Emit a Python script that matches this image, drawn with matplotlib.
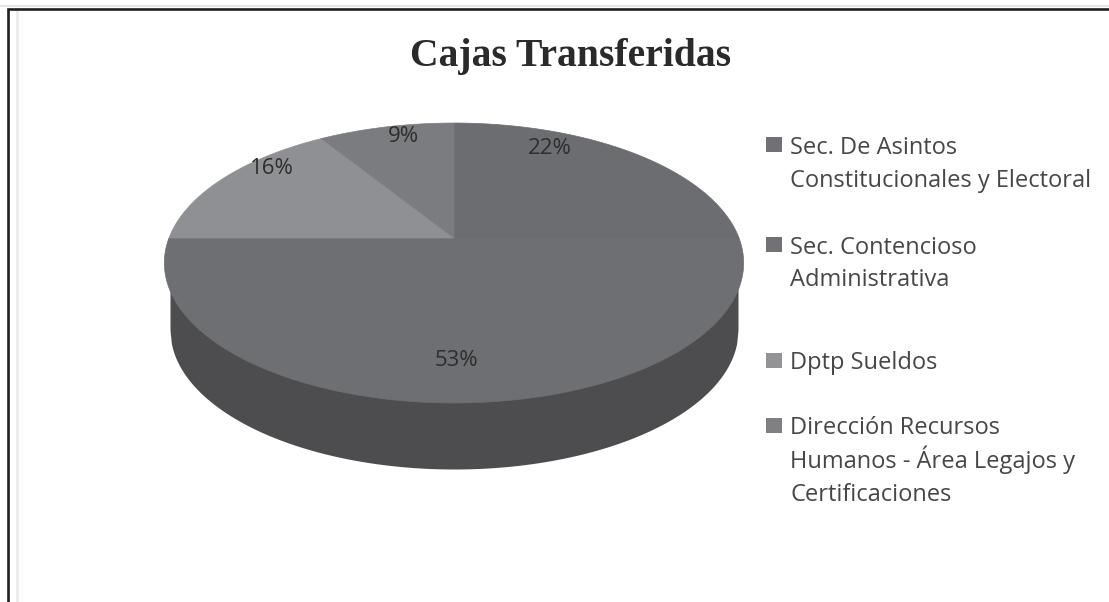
import numpy as np
import matplotlib
matplotlib.use("Agg")
import matplotlib.pyplot as plt
from matplotlib.patches import Polygon, Rectangle
from matplotlib.transforms import Affine2D

title = "Cajas Transferidas"
categories = ["Sec. De Asintos\nConstitucionales y Electoral",
              "Sec. Contencioso\nAdministrativa",
              "Dptp Sueldos",
              "Dirección Recursos\nHumanos - Área Legajos y\nCertificaciones"]
# angular shares as drawn in the picture (the printed labels differ a little)
drawn_shares = [25, 50, 16, 9]
pct_labels = ["22%", "53%", "16%", "9%"]
colors = ["#6c6d70", "#6e6f72", "#8f9093", "#7b7c7f"]
legend_colors = ["#707174", "#727276", "#939396", "#808084"]

W, H = 1109, 602
fig = plt.figure(figsize=(W / 100, H / 100), dpi=100, facecolor="white")
ax = fig.add_axes([0, 0, 1, 1])

wedges, _ = ax.pie(drawn_shares, colors=colors, startangle=90, counterclock=False)
ax.set_aspect("auto")
ax.set_xlim(0, W)
ax.set_ylim(H, 0)
ax.axis("off")

# perspective projection of the unit-circle pie
CX, CY, A, B = 454.0, 238.0, 285.0, 135.5
K = 50 / 280


def project(v):
    d = 1 + K * v[:, 1]
    return np.column_stack([CX + A * v[:, 0] / d, CY - B * v[:, 1] / d])


# side wall of the disc
RX_TOP, RY_TOP, CY_TOP = 290.0, 140.0, 263.0
RX_LOW, RY_LOW, CY_LOW = 284.0, 139.0, 330.0
xs = np.linspace(-RX_LOW, RX_LOW, 400)
upper = CY_TOP + RY_TOP * np.sqrt(1 - (xs / RX_TOP) ** 2)
lower = CY_LOW + RY_LOW * np.sqrt(1 - (xs / RX_LOW) ** 2)
ax.fill_between(CX + xs, upper - 20, lower, color="#4d4d4f", lw=0, zorder=1)

for w, col in zip(wedges, colors):
    poly = w.get_path().to_polygons(transform=Affine2D().scale(1000))[0] / 1000
    w.remove()
    ax.add_patch(Polygon(project(poly), closed=True, facecolor=col, edgecolor=col, lw=0.5, zorder=2))

# frame
ax.plot([0, W], [5.5, 5.5], color="#e6e6e8", lw=1.5, zorder=0)
ax.plot([7.5, 7.5, W], [H, 8.5, 8.5], color="#1e1e1e", lw=1.9, zorder=5, solid_joinstyle="miter")
ax.plot([17, 17], [10, H], color="#ebebee", lw=2, zorder=0)

ax.text(570.5, 66, title, ha="center", va="baseline", fontsize=28.5, fontweight="bold",
        family="Liberation Serif", color="#2a2a2c")

pct_pos = [(550, 148), (456, 360), (272, 168), (403, 136)]
for (x, y), s in zip(pct_pos, pct_labels):
    ax.text(x, y, s, ha="center", va="center", fontsize=16, family="Open Sans", color="#2e2e30", zorder=4)

sq = [(137, 154), (237, 254), (353, 369), (418, 434)]
line_h = [33, 32, 33, 33.5]
for (top, base), cat, col, lh in zip(sq, categories, legend_colors, line_h):
    ax.add_patch(Rectangle((766, top), 16, 15, facecolor=col, edgecolor="none", zorder=3))
    for i, line in enumerate(cat.split("\n")):
        ax.text(790, base + i * lh, line, ha="left", va="baseline", fontsize=17,
                family="Open Sans", color="#47474a")

fig.savefig("out.png", dpi=100)
